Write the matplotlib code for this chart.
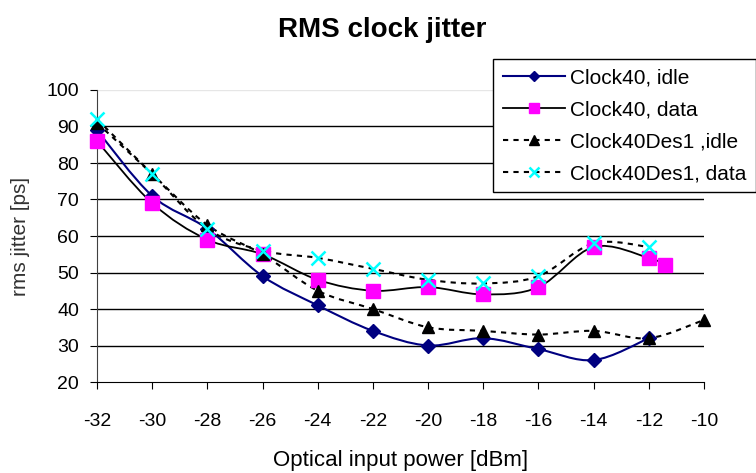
import matplotlib
matplotlib.use("Agg")
import matplotlib.pyplot as plt
import numpy as np
from matplotlib.path import Path
from matplotlib.patches import PathPatch
from matplotlib.lines import Line2D

plt.rcParams["font.family"] = ["Liberation Sans", "DejaVu Sans"]
plt.rcParams["axes.unicode_minus"] = False

# data
power = [-32, -30, -28, -26, -24, -22, -20, -18, -16, -14, -12]
clk_idle = [89, 71, 62, 49, 41, 34, 30, 32, 29, 26, 32]

power_data = [-32, -30, -28, -26, -24, -22, -20, -18, -16, -14, -12, -11.4]
clk_data = [86, 69, 59, 55, 48, 45, 46, 44, 46, 57, 54, 52]

power_des_idle = [-32, -30, -28, -26, -24, -22, -20, -18, -16, -14, -12, -10]
des_idle = [91, 77, 63, 55, 45, 40, 35, 34, 33, 34, 32, 37]

power_des_data = [-32, -30, -28, -26, -24, -22, -20, -18, -16, -14, -12]
des_data = [92, 77, 62, 56, 54, 51, 48, 47, 49, 58, 57]

labels = ["Clock40, idle", "Clock40, data", "Clock40Des1 ,idle", "Clock40Des1, data"]


def smooth_path(x, y):
    # Excel-like smoothed line: Catmull-Rom segments as cubic Beziers
    p = np.column_stack([x, y]).astype(float)
    verts = [p[0]]
    codes = [Path.MOVETO]
    n = len(p)
    for i in range(n - 1):
        p0 = p[i - 1] if i > 0 else p[i]
        p3 = p[i + 2] if i + 2 < n else p[i + 1]
        c1 = p[i] + (p[i + 1] - p0) / 6.0
        c2 = p[i + 1] - (p3 - p[i]) / 6.0
        verts += [c1, c2, p[i + 1]]
        codes += [Path.CURVE4] * 3
    return Path(verts, codes)


fig = plt.figure(figsize=(7.56, 4.73), dpi=100)
ax = fig.add_axes([97 / 756, 1 - 382 / 473, (704 - 97) / 756, (382 - 90) / 473])

series = [
    (power, clk_idle, dict(color="#000080", lw=1.5, ls="-"),
     dict(marker="D", color="#000080", ms=7)),
    (power_data, clk_data, dict(color="black", lw=1.3, ls="-"),
     dict(marker="s", color="#FF00FF", ms=10)),
    (power_des_idle, des_idle, dict(color="black", lw=1.5, ls=(0, (2.5, 2.5))),
     dict(marker="^", color="black", ms=9)),
    (power_des_data, des_data, dict(color="black", lw=1.5, ls=(0, (2.5, 2.5))),
     dict(marker="x", color="#00FFFF", ms=10, mew=1.8)),
]

handles = []
for (xs, ys, lst, mk), lab in zip(series, labels):
    patch = PathPatch(smooth_path(xs, ys), facecolor="none", edgecolor=lst["color"],
                      lw=lst["lw"], linestyle=lst["ls"], zorder=3, clip_on=False)
    ax.add_patch(patch)
    ax.plot(xs, ys, linestyle="none", marker=mk["marker"], color=mk["color"],
            markersize=mk["ms"], markeredgewidth=mk.get("mew", 1), zorder=4, clip_on=False)
    handles.append(Line2D([], [], color=lst["color"], lw=lst["lw"], linestyle=lst["ls"],
                          marker=mk["marker"], markerfacecolor=mk["color"],
                          markeredgecolor=mk["color"], markersize=mk["ms"] * 0.75,
                          markeredgewidth=mk.get("mew", 1)))

ax.set_xlim(-32, -10)
ax.set_ylim(20, 100)
ax.set_xticks(np.arange(-32, -9, 2))
ax.set_yticks(np.arange(20, 101, 10))

for v in range(30, 100, 10):
    ax.axhline(v, color="black", lw=1, zorder=1)
ax.axhline(100, color="#e6e6e6", lw=1, zorder=1)

for s in ["top", "right"]:
    ax.spines[s].set_visible(False)
ax.spines["left"].set_color("#404040")
ax.spines["bottom"].set_color("black")
ax.tick_params(direction="out", length=5, labelsize=14, color="black")
ax.tick_params(axis="x", pad=17)
ax.tick_params(axis="y", pad=8)

ax.set_xlabel("Optical input power [dBm]", fontsize=16, labelpad=15)
ax.set_ylabel("rms jitter [ps]", fontsize=15, labelpad=12, color="#333333")
fig.text(0.505, 1 - 30 / 473, "RMS clock jitter", ha="center", va="center",
         fontsize=20, fontweight="bold")

leg = fig.legend(handles, labels, loc="upper right", bbox_to_anchor=(1.0, 1 - 59 / 473),
                 fontsize=15, frameon=True, fancybox=False, edgecolor="black",
                 framealpha=1, handlelength=3.0, handletextpad=0.25, borderpad=0.45,
                 labelspacing=0.62, borderaxespad=0)
leg.get_frame().set_linewidth(1)

fig.savefig("out.png", dpi=100)
